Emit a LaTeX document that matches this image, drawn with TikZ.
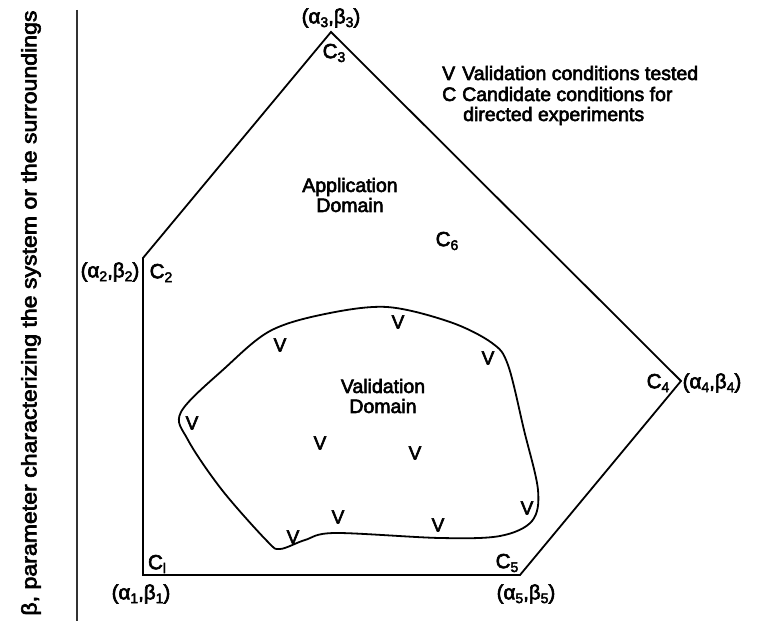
\documentclass[tikz,border=0pt]{standalone}
\usepackage{graphicx}
\usepackage{fontspec}
\setmainfont{Liberation Sans}[FakeBold=3]
\newcommand{\sbs}[1]{\raisebox{-0.35ex}{\fontsize{14}{14}\selectfont #1}}
\begin{document}
\begin{tikzpicture}[x=1pt,y=-1pt,
  txt/.style={font=\fontsize{19.5}{20}\selectfont, inner sep=0pt, align=center},
  vtx/.style={font=\fontsize{20.5}{21}\selectfont, inner sep=0pt},
  vmark/.style={font=\fontsize{19}{20}\selectfont, inner sep=0pt},
  edge/.style={line width=1.8pt, line join=miter}]
\useasboundingbox (0,0) rectangle (761,623);
% axis line
\coordinate (ax1) at (77,10);
\coordinate (ax2) at (77,621);
\draw[line width=2pt, black!80] (ax1) -- (ax2);
\node[inner sep=0pt, font=\fontsize{21}{22}\selectfont, rotate=90] (axlabel) at (31,313)
  {\scalebox{1.1}[1]{β, parameter characterizing the system or the surroundings}};
% polygon
\coordinate (p1) at (143,575);
\coordinate (p2) at (143,258);
\coordinate (p3) at (331,32);
\coordinate (p4) at (681,381);
\coordinate (p5) at (520,575);
\draw[edge] (p1) -- (p2) -- (p3) -- (p4) -- (p5) -- cycle;
% vertex labels
\node[vtx] (a3) at (331,18) {(α\sbs{3},β\sbs{3})};
\node[vtx] (c3) at (334,53) {C\sbs{3}};
\node[vtx] (a2) at (110,272) {(α\sbs{2},β\sbs{2})};
\node[vtx] (c2) at (161,273) {C\sbs{2}};
\node[vtx] (c4) at (658,383) {C\sbs{4}};
\node[vtx] (a4) at (712,383) {(α\sbs{4},β\sbs{4})};
\node[vtx] (c1) at (157,564) {C\sbs{l}};
\node[vtx] (a1) at (141,594) {(α\sbs{1},β\sbs{1})};
\node[vtx] (c5) at (507,563) {C\sbs{5}};
\node[vtx] (a5) at (526,594) {(α\sbs{5},β\sbs{5})};
\node[vtx] (c6) at (447,241) {C\sbs{6}};
% domain labels
\node[txt] (app) at (350,195) {Application\\Domain};
\node[txt] (val) at (383,396) {Validation\\Domain};
% legend
\node[txt, anchor=base west] (lv) at (442,80) {V};
\node[txt, anchor=base west] (lvt) at (462,80) {Validation conditions tested};
\node[txt, anchor=base west] (lc) at (442,101) {C};
\node[txt, anchor=base west] (lct) at (462,101) {Candidate conditions for};
\node[txt, anchor=base west] (lct2) at (463,121) {directed experiments};
% validation domain outline
\draw[line width=1.8pt] plot[smooth cycle, tension=0.55] coordinates {
 (181,412) (225,368) (270,331) (325,314) (387,307) (450,322) (492,343)
 (508,365) (524,430) (538,490) (532,521) (500,536) (440,538) (335,533)
 (305,540) (280,549) (267,541) (222,490) (188,440)};
% V marks
\node[vmark] (v1) at (280,345) {V};
\node[vmark] (v2) at (398,322) {V};
\node[vmark] (v3) at (488,358) {V};
\node[vmark] (v4) at (192,423) {V};
\node[vmark] (v5) at (320,443) {V};
\node[vmark] (v6) at (415,453) {V};
\node[vmark] (v7) at (527,508) {V};
\node[vmark] (v8) at (338,517) {V};
\node[vmark] (v9) at (438,525) {V};
\node[vmark] (v10) at (293,537) {V};
\end{tikzpicture}
\end{document}
